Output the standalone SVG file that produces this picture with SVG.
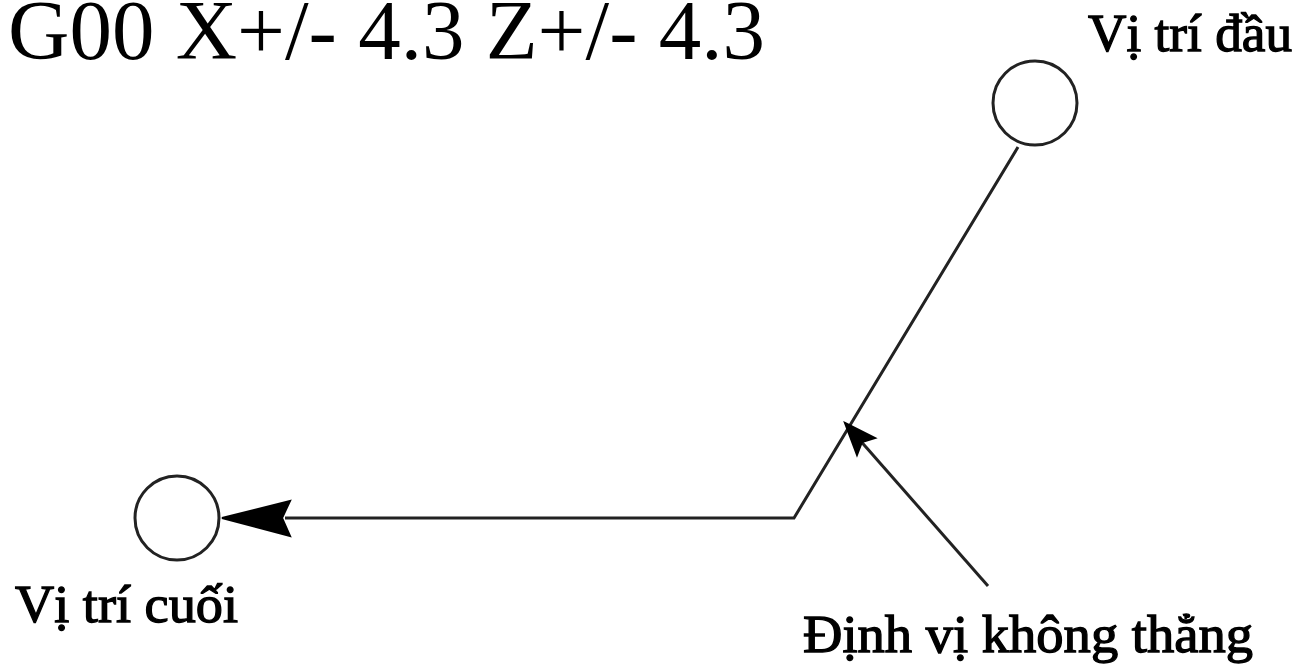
<svg xmlns="http://www.w3.org/2000/svg" width="1301" height="665" viewBox="0 0 1301 665">
<style>
.node{fill:#fff;stroke:#222;stroke-width:3}
.line{fill:none;stroke:#222;stroke-width:3}
.head{fill:#000;stroke:#000;stroke-width:2}
.lbl{font-family:"Liberation Serif","Times New Roman",serif;font-size:53px;fill:#000;stroke:#000;stroke-width:1.3}
.title{font-family:"Liberation Serif","Times New Roman",serif;font-size:84px;fill:#000}
</style>
<rect width="1301" height="665" fill="#fff"/>
<text class="title" x="8" y="59" textLength="757" lengthAdjust="spacingAndGlyphs">G00 X+/- 4.3 Z+/- 4.3</text>
<g id="connectors">
<polyline class="line" points="1018,147 794,518 285,518"/>
<polygon class="head" points="222,518 290,501 282,518 290,536"/>
<line class="line" x1="988" y1="586" x2="858" y2="438"/>
<polygon class="head" points="845,423 875,438 862,442 857,455"/>
</g>
<g id="start">
<circle class="node" cx="1035" cy="103" r="42"/>
<text class="lbl" x="1088" y="51" textLength="204" lengthAdjust="spacingAndGlyphs">Vị trí đầu</text>
</g>
<g id="end">
<circle class="node" cx="177" cy="518" r="42"/>
<text class="lbl" x="15" y="622" textLength="223" lengthAdjust="spacingAndGlyphs">Vị trí cuối</text>
</g>
<g id="label-nonlinear">
<text class="lbl" x="803" y="652" textLength="450" lengthAdjust="spacingAndGlyphs">Định vị không thẳng</text>
</g>
</svg>
